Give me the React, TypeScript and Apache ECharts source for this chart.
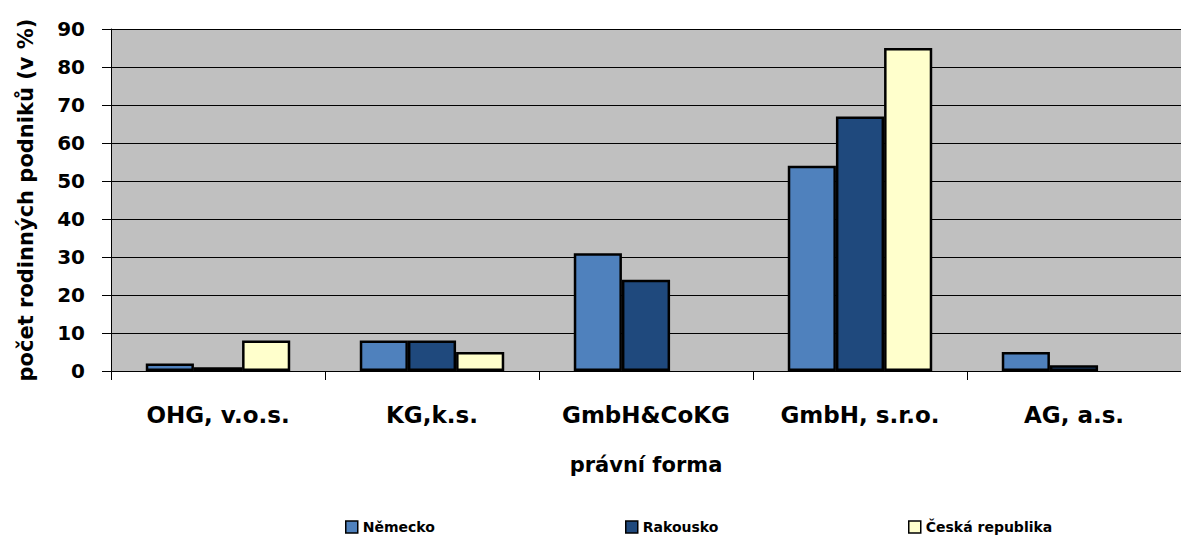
import React, { useEffect, useRef } from "react";
import * as echarts from "echarts";

const categories = ["OHG, v.o.s.", "KG,k.s.", "GmbH&CoKG", "GmbH, s.r.o.", "AG, a.s."];
const nemecko = [2, 8, 31, 54, 5];
const rakousko = [1, 8, 24, 67, 1.5];
const ceskaRepublika = [8, 5, 0, 85, 0];
const yTicks = [0, 10, 20, 30, 40, 50, 60, 70, 80, 90];

const FONT = "'DejaVu Sans', sans-serif";

export default function App() {
  const ref = useRef<HTMLDivElement>(null);

  useEffect(() => {
    if (!ref.current) return;
    const chart = echarts.init(ref.current, undefined, { renderer: "svg" });

    // zero shares are left undrawn, as in the original workbook chart
    const mkSeries = (name: string, data: number[], color: string) => ({
      name,
      type: "bar",
      data: data.map((v) => (v === 0 ? null : v)),
      barGap: "0%",
      barCategoryGap: "32.5%",
      itemStyle: { color, borderColor: "#000", borderWidth: 2.5 },
    });

    const legendBase = {
      top: 515,
      itemWidth: 12,
      itemHeight: 12,
      itemGap: 4,
      icon: "rect",
      textStyle: { fontFamily: FONT, fontWeight: "bold", fontSize: 14, color: "#000", padding: [0, 0, 0, 0] },
      itemStyle: { borderWidth: 1.5, borderColor: "#000" },
    };

    chart.setOption({
      animation: false,
      textStyle: { fontFamily: FONT },
      grid: {
        left: 111,
        right: -7,
        top: 29,
        bottom: 164,
        show: true,
        backgroundColor: "#C0C0C0",
        borderWidth: 0,
      },
      legend: [
        { ...legendBase, left: 340, data: ["Německo"] },
        { ...legendBase, left: 620, data: ["Rakousko"] },
        { ...legendBase, left: 903, data: ["Česká republika"] },
      ],
      xAxis: {
        type: "category",
        data: categories,
        name: "právní forma",
        nameLocation: "middle",
        nameGap: 83,
        nameTextStyle: { fontFamily: FONT, fontWeight: "bold", fontSize: 21, color: "#000", verticalAlign: "top" },
        axisLine: { lineStyle: { color: "#000", width: 1 } },
        axisTick: { show: true, interval: 0, length: 9, lineStyle: { color: "#000" } },
        axisLabel: { interval: 0, margin: 32, fontFamily: FONT, fontWeight: "bold", fontSize: 23, color: "#000" },
      },
      yAxis: {
        type: "value",
        min: yTicks[0],
        max: yTicks[yTicks.length - 1],
        interval: 10,
        name: "počet rodinných podniků (v %)",
        nameLocation: "middle",
        nameRotate: 90,
        nameGap: 75,
        nameTextStyle: { fontFamily: FONT, fontWeight: "bold", fontSize: 21, color: "#000" },
        axisLine: { show: true, lineStyle: { color: "#000", width: 1 } },
        axisTick: { show: true, length: 9, lineStyle: { color: "#000" } },
        axisLabel: { margin: 26, fontFamily: FONT, fontWeight: "bold", fontSize: 20, color: "#000" },
        splitLine: { show: true, lineStyle: { color: "#000", width: 1 } },
      },
      series: [
        mkSeries("Německo", nemecko, "#4F81BD"),
        mkSeries("Rakousko", rakousko, "#1F497D"),
        mkSeries("Česká republika", ceskaRepublika, "#FFFFCC"),
      ],
    });

    return () => chart.dispose();
  }, []);

  return <div ref={ref} style={{ width: 1181, height: 535, position: "absolute", left: 0, top: 0 }} />;
}
